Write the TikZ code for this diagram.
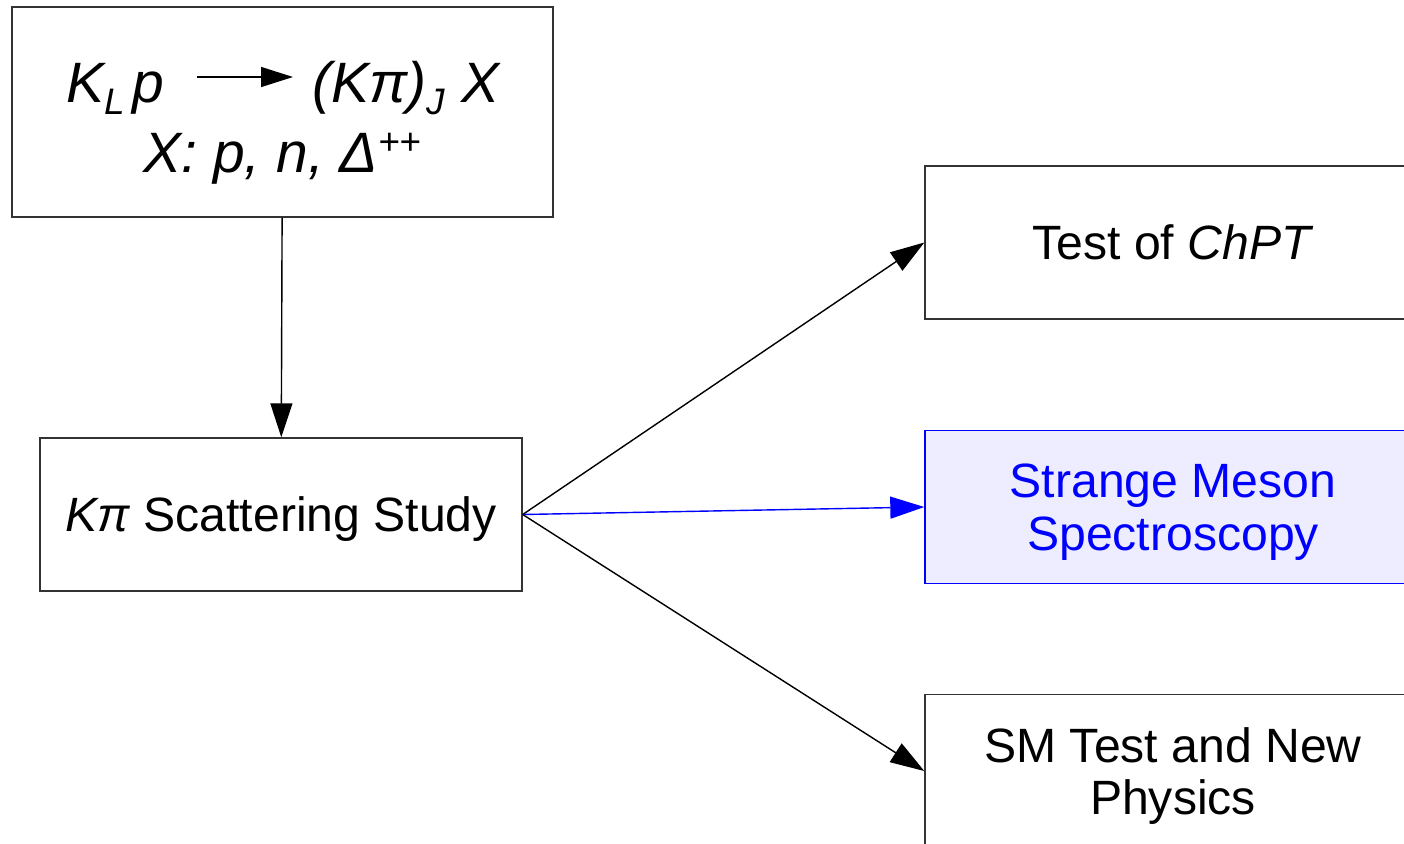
\documentclass[tikz,border=0pt]{standalone}
\usepackage{fontspec}
\setmainfont{Liberation Sans}
\usetikzlibrary{arrows.meta, positioning}

\newcommand{\lowsub}[1]{\raisebox{-0.22em}{\fontsize{10.5}{12}\selectfont #1}}
\newcommand{\highsup}[1]{\raisebox{0.3em}{\fontsize{10.5}{12}\selectfont #1}}

\begin{document}
\begin{tikzpicture}[
    box/.style={draw=black!80, line width=0.4pt, minimum width=4.82cm, minimum height=1.53cm, inner sep=0pt, text depth=0pt, align=center, font=\fontsize{13.7}{15}\selectfont},
    hilite/.style={box, draw=blue, fill=blue!7, text=blue},
    eqn/.style={inner sep=0pt, anchor=base west, font=\fontsize{16.2}{18}\selectfont\itshape},
    link/.style={-{Triangle[length=0.34cm, width=0.22cm]}, line width=0.4pt},
]
    \useasboundingbox (0,0) rectangle (14.04,-8.43);
    \clip (0,0) rectangle (14.04,-8.43);

    % Reazione
    \node[box, minimum width=5.41cm, minimum height=2.10cm] (react) at (2.825,-1.12) {};
    \node[eqn] (lhs) at (0.66,-1.02) {K\lowsub{L}\hspace{0.12em}p};
    \node[eqn] (rhs) at (3.12,-1.02) {(Kπ)\lowsub{J} X};
    \node[eqn] (xset) at (1.43,-1.72) {X: p, n, Δ\highsup{++}};
    \coordinate (arrs) at (1.97,-0.77);
    \coordinate (arre) at (2.93,-0.77);
    \draw[-{Triangle[length=0.32cm, width=0.2cm]}, line width=0.4pt] (arrs) -- (arre);

    % Studio
    \node[box] (scat) at (2.81,-5.145) {\textit{Kπ} Scattering Study};

    % Applicazioni
    \node[box, minimum width=4.96cm] (chpt) at (11.73,-2.425) {Test of \textit{ChPT}};
    \node[hilite, minimum width=4.96cm] (meson) at (11.73,-5.07) {Strange Meson\\Spectroscopy};
    \node[box, minimum width=4.96cm] (smnp) at (11.73,-7.71) {SM Test and New\\Physics};

    % Frecce
    \draw[link] (react) -- (scat);
    \draw[link] (scat.east) -- (chpt.west);
    \draw[link, blue] (scat.east) -- (meson.west);
    \draw[link] (scat.east) -- (smnp.west);
\end{tikzpicture}
\end{document}
